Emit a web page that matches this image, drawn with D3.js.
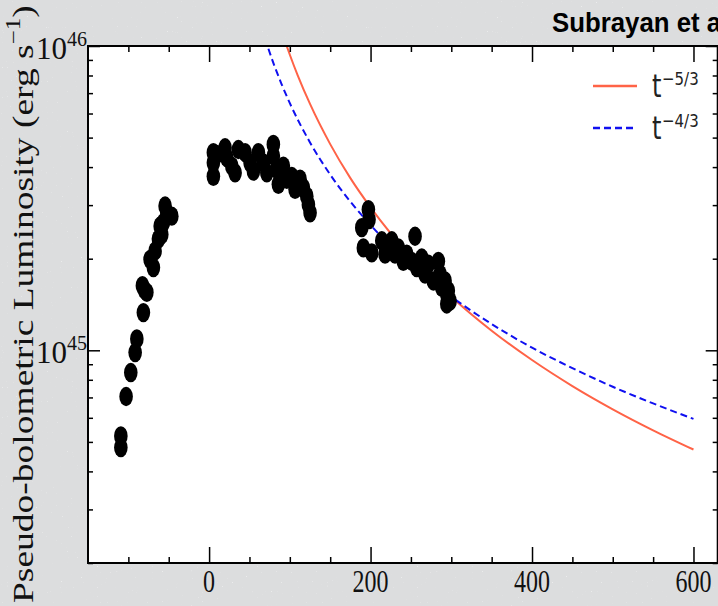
<!doctype html>
<html lang="en">
<head>
<meta charset="UTF-8">
<title>Pseudo-bolometric light curve</title>
<script src="https://cdnjs.cloudflare.com/ajax/libs/d3/7.8.5/d3.min.js"></script>
<style>
    html, body { margin: 0; padding: 0; background: #dcddde; overflow: hidden; }
    svg { display: block; }
</style>
</head>
<body>
<svg id="chart" width="718" height="606"></svg>
<script>

    // observed points: phase (days) and luminosity (units of 1e45 erg/s)
    var phaseDays = [
        -109.3, -109.3, -102.8, -97.0, -91.6, -89.5, -81.4, -80.1, -77.1, -82.6,
        -73.1, -69.0, -66.9, -62.8, -58.6, -60.6, -56.6, -54.5, -52.4, -46.2,
        5.3, 5.3, 5.3, 9.5, 19.8, 21.9, 28.1, 32.2, 36.3, 44.6,
        50.8, 54.9, 61.1, 67.2, 71.5, 79.6, 79.6, 83.8, 85.8, 92.0,
        96.2, 102.4, 106.5, 112.7, 116.8, 121.0, 123.0, 125.1,
        197.3, 198.1, 189.1, 191.1, 201.5, 213.9, 218.0, 226.3, 230.3, 234.4,
        240.6, 244.8, 255.1, 251.0, 257.2, 263.4, 267.5, 271.6, 277.8, 284.0,
        286.1, 288.2, 292.3, 294.4, 298.5, 296.3, 294.4
    ];
    var lumValues = [
        0.523, 0.479, 0.705, 0.845, 0.983, 1.09, 1.33, 1.58, 1.55, 1.63,
        1.99, 1.87, 2.12, 2.32, 2.40, 2.56, 2.63, 2.98, 2.83, 2.76,
        4.46, 4.13, 3.73, 4.40, 4.63, 4.30, 4.03, 3.83, 4.57, 4.46,
        4.13, 3.88, 4.46, 4.13, 3.83, 4.75, 4.35, 3.93, 3.51, 4.03,
        3.65, 3.73, 3.38, 3.65, 3.42, 3.21, 3.01, 2.83,
        2.90, 2.69, 2.53, 2.17, 2.09, 2.29, 2.07, 2.29, 2.07, 2.17,
        1.96, 2.07, 2.37, 1.96, 1.87, 2.01, 1.78, 1.92, 1.69, 1.96,
        1.78, 1.61, 1.69, 1.53, 1.45, 1.57, 1.42
    ];

    // power-law lines (units of 1e45 erg/s)
    var curveDays53 = [95, 100, 110, 125, 150, 175, 200, 250, 300, 350, 400, 450, 500, 550, 600];
    var curveLum53 = [10.2, 9.36, 7.98, 6.45, 4.76, 3.68, 2.95, 2.03, 1.50, 1.16, 0.929, 0.763, 0.640, 0.546, 0.472];
    var curveDays43 = [65, 70, 80, 90, 100, 125, 150, 175, 200, 250, 300, 350, 400, 450, 500, 550, 600];
    var curveLum43 = [11.5, 10.44, 8.74, 7.47, 6.49, 4.82, 3.78, 3.08, 2.58, 1.91, 1.50, 1.22, 1.02, 0.874, 0.759, 0.669, 0.595];

    var legendLabels = ['\u22125/3', '\u22124/3'];

    var xMajorTicks = [0, 200, 400, 600];
    var xMinorTicks = [-100, -50, 50, 100, 150, 250, 300, 350, 450, 500, 550];
    var yMajorTicks = [1e45, 1e46];
    var yMajorExp = ['45', '46'];
    var yMinorTicks = [2e44, 3e44, 4e44, 5e44, 6e44, 7e44, 8e44, 9e44,
                       2e45, 3e45, 4e45, 5e45, 6e45, 7e45, 8e45, 9e45];

    var plotL = 88, plotR = 717.7, plotT = 46, plotB = 563;

    var svg = d3.select('#chart');

    var x = d3.scaleLinear().domain([-150, 630]).range([plotL, plotR]);
    var y = d3.scaleLog().domain([2e44, 1e46]).range([plotB, plotT]);

    var serif = '"Liberation Serif", "DejaVu Serif", serif';
    var sans = '"DejaVu Sans", sans-serif';

    // speckled slide background
    var speck = svg.append('filter').attr('id', 'speck')
        .attr('x', 0).attr('y', 0).attr('width', '100%').attr('height', '100%');
    speck.append('feTurbulence')
        .attr('type', 'fractalNoise')
        .attr('baseFrequency', 0.8)
        .attr('numOctaves', 1)
        .attr('seed', 7);
    speck.append('feColorMatrix')
        .attr('type', 'matrix')
        .attr('values', '0 0 0 0 1  0 0 0 0 1  0 0 0 0 1  10 0 0 0 -7.2');

    svg.append('rect')
        .attr('width', 718).attr('height', 606)
        .attr('filter', 'url(#speck)')
        .attr('opacity', 0.45);

    // plot area
    svg.append('rect')
        .attr('x', plotL).attr('y', plotT)
        .attr('width', plotR - plotL).attr('height', plotB - plotT)
        .attr('fill', 'white');

    svg.append('clipPath').attr('id', 'plotclip')
        .append('rect')
        .attr('x', plotL).attr('y', plotT)
        .attr('width', plotR - plotL).attr('height', plotB - plotT);

    var plot = svg.append('g').attr('clip-path', 'url(#plotclip)');

    var line = d3.line()
        .x(function (d) { return x(d[0]); })
        .y(function (d) { return y(d[1] * 1e45); })
        .curve(d3.curveMonotoneX);

    plot.append('path')
        .datum(d3.zip(curveDays53, curveLum53))
        .attr('d', line)
        .attr('fill', 'none')
        .attr('stroke', '#ff6347')
        .attr('stroke-width', 2);

    plot.append('path')
        .datum(d3.zip(curveDays43, curveLum43))
        .attr('d', line)
        .attr('fill', 'none')
        .attr('stroke', '#1010f0')
        .attr('stroke-width', 2)
        .attr('stroke-dasharray', '7,4');

    plot.selectAll('ellipse')
        .data(d3.zip(phaseDays, lumValues))
        .enter().append('ellipse')
        .attr('cx', function (d) { return x(d[0]); })
        .attr('cy', function (d) { return y(d[1] * 1e45); })
        .attr('rx', 6.8)
        .attr('ry', 9.7)
        .attr('fill', 'black');

    // ticks, all pointing into the frame
    function ticks(axis, pos, values, size) {
        var g = svg.append('g').attr('transform', pos)
            .call(axis.tickValues(values).tickSize(-size).tickFormat(''));
        g.select('.domain').remove();
        g.selectAll('line').attr('stroke', 'black').attr('stroke-width', 1.5);
    }

    ticks(d3.axisBottom(x), 'translate(0,' + plotB + ')', xMajorTicks, 16);
    ticks(d3.axisBottom(x), 'translate(0,' + plotB + ')', xMinorTicks, 6);
    ticks(d3.axisTop(x), 'translate(0,' + plotT + ')', xMajorTicks, 16);
    ticks(d3.axisTop(x), 'translate(0,' + plotT + ')', xMinorTicks, 6);
    ticks(d3.axisLeft(y), 'translate(' + plotL + ',0)', yMajorTicks, 12);
    ticks(d3.axisLeft(y), 'translate(' + plotL + ',0)', yMinorTicks, 5);
    ticks(d3.axisRight(y), 'translate(' + plotR + ',0)', yMajorTicks, 12);
    ticks(d3.axisRight(y), 'translate(' + plotR + ',0)', yMinorTicks, 5);

    svg.append('rect')
        .attr('x', plotL).attr('y', plotT)
        .attr('width', plotR - plotL).attr('height', plotB - plotT)
        .attr('fill', 'none')
        .attr('stroke', 'black')
        .attr('stroke-width', 2);

    // x tick labels
    svg.selectAll('.xlab')
        .data(xMajorTicks)
        .enter().append('text')
        .attr('class', 'xlab')
        .attr('transform', function (d) { return 'translate(' + x(d) + ',592) scale(1,1.35)'; })
        .attr('text-anchor', 'middle')
        .attr('font-family', serif)
        .attr('font-size', 24)
        .attr('fill', '#111')
        .text(function (d) { return d; });

    // y tick labels 10^45, 10^46
    var ylabs = svg.selectAll('.ylab')
        .data(yMajorTicks)
        .enter().append('text')
        .attr('class', 'ylab')
        .attr('x', plotL - 1)
        .attr('y', function (d) { return y(d) + 13; })
        .attr('text-anchor', 'end')
        .attr('font-family', serif)
        .attr('font-size', 31)
        .attr('fill', '#111');
    ylabs.append('tspan').text('10');
    ylabs.append('tspan')
        .attr('font-size', 20)
        .attr('dy', -13)
        .text(function (d, i) { return yMajorExp[i]; });

    // y axis title
    var ytitle = svg.append('text')
        .attr('font-family', serif)
        .attr('font-size', 30)
        .attr('fill', '#111');
    ytitle.append('tspan').text('Pseudo-bolometric Luminosity (erg s');
    ytitle.append('tspan').attr('font-size', 20).attr('dy', -13).text('\u22121');
    ytitle.append('tspan').attr('dy', 13).text(')');
    var tlen = ytitle.node().getComputedTextLength();
    ytitle.attr('transform', 'translate(33,603) rotate(-90) scale(' + (598 / tlen) + ',1)');

    // legend
    var legendColors = ['#ff6347', '#1010f0'];
    var legendDash = [null, '7,4'];
    legendLabels.forEach(function (lab, i) {
        var ly = 86 + 42 * i;
        svg.append('line')
            .attr('x1', 593).attr('x2', 637)
            .attr('y1', ly).attr('y2', ly)
            .attr('stroke', legendColors[i])
            .attr('stroke-width', 2.5)
            .attr('stroke-dasharray', legendDash[i]);
        svg.append('text')
            .attr('transform', 'translate(652,' + (ly + 11) + ') scale(1,1.3)')
            .attr('font-family', sans)
            .attr('font-size', 24)
            .attr('fill', '#222')
            .text('t');
        svg.append('text')
            .attr('transform', 'translate(662,' + (ly - 1) + ') scale(1,1.2)')
            .attr('font-family', sans)
            .attr('font-size', 15)
            .attr('fill', '#222')
            .text(lab);
    });

    // slide title, runs off the right edge as in the original slide
    svg.append('text')
        .attr('transform', 'translate(552,32) scale(1,1.1)')
        .attr('font-family', '"Liberation Sans", Arial, sans-serif')
        .attr('font-weight', 'bold')
        .attr('font-size', 25.8)
        .attr('fill', 'black')
        .text('Subrayan et al.');

</script>
</body>
</html>
